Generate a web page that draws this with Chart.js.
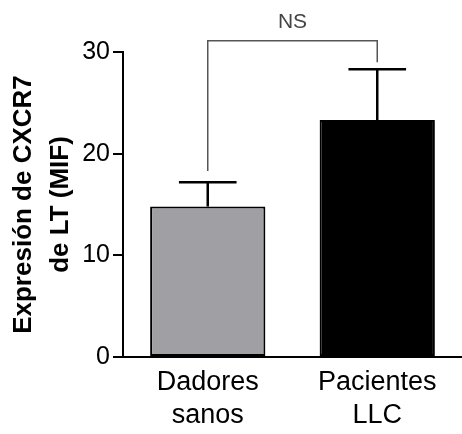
<!DOCTYPE html>
<html>
<head>
<meta charset="utf-8">
<script src="https://cdn.jsdelivr.net/npm/chart.js@4"></script>
<style>
  body { margin: 0; background: #fff; }
  canvas { display: block; }
</style>
</head>
<body>
<canvas id="myChart" width="462" height="434"></canvas>
<script>
// --- Data ---
const groups = [['Dadores', 'sanos'], ['Pacientes', 'LLC']]
const means = [14.8, 23.3]
const sds = [2.4, 5.0]
const barColors = ['#a0a0a4', '#000000']
const yTicks = [0, 10, 20, 30]
const axisTitle = ['Expresión de CXCR7', 'de LT (MIF)']
// comparison bracket (in data units)
const bracketLabel = 'NS'
const bracketTop = 31.1
const bracketEnds = [18.3, 29.0]

const FONT = "'Liberation Sans', Arial, sans-serif"
const ctx = document.getElementById('myChart').getContext('2d')

// error bars + NS bracket
const extras = {
    id: 'extras',
    afterDatasetsDraw(chart) {
        const c = chart.ctx
        const y = chart.scales.y
        const bars = chart.getDatasetMeta(0).data
        c.save()
        c.strokeStyle = '#000'
        c.lineWidth = 2.5
        bars.forEach((bar, i) => {
            const top = y.getPixelForValue(means[i] + sds[i])
            const capHalf = bar.width * 0.25
            c.beginPath()
            c.moveTo(bar.x, bar.y)
            c.lineTo(bar.x, top)
            c.moveTo(bar.x - capHalf, top)
            c.lineTo(bar.x + capHalf, top)
            c.stroke()
        })

        // bracket
        const yb = y.getPixelForValue(bracketTop)
        c.strokeStyle = '#555'
        c.lineWidth = 1.5
        c.beginPath()
        c.moveTo(bars[0].x, y.getPixelForValue(bracketEnds[0]))
        c.lineTo(bars[0].x, yb)
        c.lineTo(bars[1].x, yb)
        c.lineTo(bars[1].x, y.getPixelForValue(bracketEnds[1]))
        c.stroke()

        c.fillStyle = '#444'
        c.font = '21px ' + FONT
        c.textAlign = 'center'
        c.textBaseline = 'alphabetic'
        c.fillText(bracketLabel, (bars[0].x + bars[1].x) / 2, yb - 13)
        c.restore()
    }
}

const myChart = new Chart(ctx, {
    type: 'bar',
    data: {
        labels: groups,
        datasets: [{
            data: means,
            backgroundColor: barColors,
            borderColor: '#000',
            borderWidth: 2,
            borderSkipped: false,
            barPercentage: 0.68,
            categoryPercentage: 1
        }]
    },
    options: {
        responsive: false,
        animation: false,
        devicePixelRatio: 1,
        layout: { padding: { top: 52, left: 0, right: 0, bottom: 0 } },
        plugins: {
            legend: { display: false },
            tooltip: { enabled: false }
        },
        scales: {
            x: {
                grid: { display: false, drawTicks: false },
                border: { display: true, color: '#000', width: 2 },
                ticks: {
                    color: '#000',
                    padding: 9,
                    maxRotation: 0,
                    font: { family: FONT, size: 27, lineHeight: 1.22 }
                },
                afterFit: (s) => { s.height = 77 }
            },
            y: {
                min: 0,
                max: 30,
                afterBuildTicks: (s) => { s.ticks = yTicks.map(v => ({ value: v })) },
                grid: {
                    drawOnChartArea: false,
                    drawTicks: true,
                    tickLength: 10,
                    color: '#000',
                    lineWidth: 2
                },
                border: { display: true, color: '#000', width: 2 },
                ticks: {
                    color: '#000',
                    padding: 3,
                    font: { family: FONT, size: 25 }
                },
                title: {
                    display: true,
                    text: axisTitle,
                    color: '#000',
                    padding: { top: 5, bottom: 0 },
                    font: { family: FONT, size: 26, weight: 'bold', lineHeight: 1.42 }
                },
                afterFit: (s) => { s.width = 123 }
            }
        }
    },
    plugins: [extras]
})
</script>
</body>
</html>
